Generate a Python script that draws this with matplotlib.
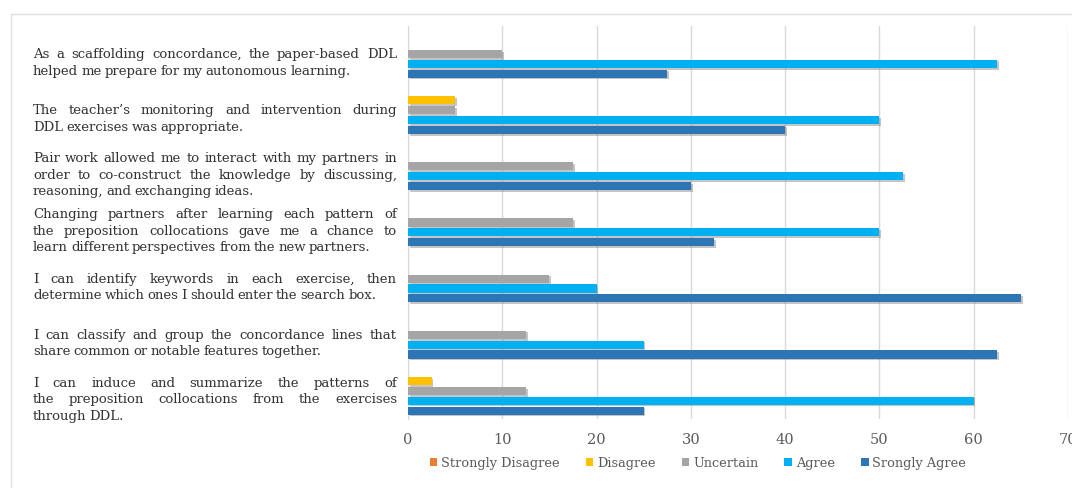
import matplotlib
matplotlib.use("Agg")
import matplotlib.pyplot as plt
import matplotlib.patheffects as pe
from matplotlib.font_manager import FontProperties
from matplotlib.patches import Rectangle
from matplotlib.transforms import blended_transform_factory
import numpy as np

# --- data -----------------------------------------------------------------
statements = [
    "As a scaffolding concordance, the paper-based DDL\nhelped me prepare for my autonomous learning.",
    "The teacher\u2019s monitoring and intervention during\nDDL exercises was appropriate.",
    "Pair work allowed me to interact with my partners in\norder to co-construct the knowledge by discussing,\nreasoning, and exchanging ideas.",
    "Changing partners after learning each pattern of\nthe preposition collocations gave me a chance to\nlearn different perspectives from the new partners.",
    "I can identify keywords in each exercise, then\ndetermine which ones I should enter the search box.",
    "I can classify and group the concordance lines that\nshare common or notable features together.",
    "I can induce and summarize the patterns of\nthe preposition collocations from the exercises\nthrough DDL.",
]
series_names = ["Strongly Disagree", "Disagree", "Uncertain", "Agree", "Srongly Agree"]
strongly_disagree = [0, 0, 0, 0, 0, 0, 0]
disagree = [0, 5, 0, 0, 0, 0, 2.5]
uncertain = [10, 5, 17.5, 17.5, 15, 12.5, 12.5]
agree = [62.5, 50, 52.5, 50, 20, 25, 60]
strongly_agree = [27.5, 40, 30, 32.5, 65, 62.5, 25]
x_ticks = [0, 10, 20, 30, 40, 50, 60, 70]

colors = ["#ED7D31", "#FFC000", "#A5A5A5", "#00B0F0", "#2E75B6"]
SERIF = "DejaVu Serif"
GRID = "#d9d9d9"
TICK_GRAY = "#595959"

W, H = 1072, 489
fig = plt.figure(figsize=(W / 100, H / 100), dpi=100)
ax = fig.add_axes([408 / W, 1 - 420 / H, 660 / W, 393 / H])

all_series = [strongly_disagree, disagree, uncertain, agree, strongly_agree]
y = np.arange(len(statements))
pitch, bar_h = 0.175, 0.145
shadow = [pe.SimplePatchShadow(offset=(1.2, -1.2), shadow_rgbFace="#808080", alpha=0.45), pe.Normal()]
for j, (vals, name, c) in enumerate(zip(all_series, series_names, colors)):
    bars = ax.barh(y + (j - 2) * pitch, vals, height=bar_h, color=c, label=name, zorder=3)
    for b in bars:
        if b.get_width() > 0:
            b.set_path_effects(shadow)

ax.set_xlim(0, 70)
ax.set_ylim(6.5, -0.5)
ax.set_xticks(x_ticks)
ax.set_yticks([])
ax.grid(axis="x", color=GRID, lw=1, zorder=0)
for s in ["top", "right", "bottom"]:
    ax.spines[s].set_visible(False)
ax.spines["left"].set_color(GRID)
ax.tick_params(axis="x", length=0, pad=9, labelsize=10.5, labelcolor=TICK_GRAY)
for lab in ax.get_xticklabels():
    lab.set_family(SERIF)

# justified statement labels on the left
fp = FontProperties(family=SERIF, size=9.5)
renderer = fig.canvas.get_renderer()
left_px, right_px = 33, 397
line_step, y_shift = 0.295, 0.14
trans = blended_transform_factory(fig.transFigure, ax.transData)
space_w = 0.72 * renderer.get_text_width_height_descent(" ", fp, ismath=False)[0]
for i, text in enumerate(statements):
    lines = text.split("\n")
    n = len(lines)
    for k, line in enumerate(lines):
        yy = i + y_shift + (k - (n - 1) / 2) * line_step
        words = line.split(" ")
        widths = [renderer.get_text_width_height_descent(w, fp, ismath=False)[0] for w in words]
        if k < n - 1 and len(words) > 1:
            gap = (right_px - left_px - sum(widths)) / (len(words) - 1)
        else:
            gap = space_w
        x = left_px
        for w, wd in zip(words, widths):
            ax.text(x / W, yy, w, transform=trans, fontproperties=fp, color="#333333",
                    ha="left", va="center", clip_on=False)
            x += wd + gap

leg = fig.legend(loc="center", bbox_to_anchor=(698 / W, 1 - 464 / H), ncol=5, frameon=False,
                 handlelength=0.6, handleheight=0.6, handletextpad=0.3, columnspacing=2.0,
                 prop=FontProperties(family=SERIF, size=9.3), labelcolor=TICK_GRAY)
for h in leg.legend_handles:
    h.set_path_effects([])

# light outer chart border (cut off at right and bottom)
fig.add_artist(Rectangle((11 / W, -0.05), 1.1, 1 - 15 / H + 0.05, transform=fig.transFigure,
                         fill=False, edgecolor="#e0e0e0", lw=1))

fig.savefig("out.png", dpi=100)
